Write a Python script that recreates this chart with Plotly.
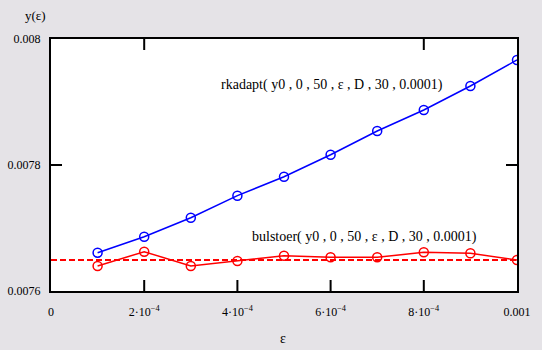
import plotly.graph_objects as go

# Tolerance values (epsilon) and the solver results at t = 50
eps = [1e-4, 2e-4, 3e-4, 4e-4, 5e-4, 6e-4, 7e-4, 8e-4, 9e-4, 1e-3]
rkadapt_vals = [0.0076608, 0.0076862, 0.0077163, 0.0077513, 0.0077814,
                0.0078163, 0.0078540, 0.0078873, 0.0079254, 0.0079667]
bulstoer_vals = [0.0076397, 0.0076624, 0.0076397, 0.0076476, 0.0076560,
                 0.0076535, 0.0076535, 0.0076614, 0.0076598, 0.0076492]
ref_value = 0.0076492

x_tickvals = [0, 2e-4, 4e-4, 6e-4, 8e-4, 1e-3]
x_ticktext = ["0", "2·10<sup>−4</sup>", "4·10<sup>−4</sup>", "6·10<sup>−4</sup>",
              "8·10<sup>−4</sup>", "0.001"]
y_tickvals = [0.0076, 0.0078, 0.008]
y_ticktext = ["0.0076", "0.0078", "0.008"]
bottom_ticks = [2e-4, 4e-4, 6e-4, 8e-4]
top_ticks = [2e-4, 8e-4]
side_ticks = [0.0078]

X_RANGE = [0, 1e-3]
Y_RANGE = [0.0076, 0.008]
SERIF = "Liberation Serif"
PLOT_W, PLOT_H = 466, 252
TICK_PX = 11


def x_frac(v):
    """Position of an x value as a fraction of the plot width."""
    return (v - X_RANGE[0]) / (X_RANGE[1] - X_RANGE[0])


fig = go.Figure()

fig.add_trace(go.Scatter(
    x=[X_RANGE[0], X_RANGE[1]], y=[ref_value, ref_value], mode="lines",
    line=dict(color="#ff0000", width=2, dash="6px,3px"), showlegend=False,
    hoverinfo="skip"))

fig.add_trace(go.Scatter(
    x=eps, y=rkadapt_vals, mode="lines+markers",
    line=dict(color="#0000ff", width=1.5),
    marker=dict(symbol="circle-open", size=9, color="#0000ff", line=dict(width=1.5)),
    showlegend=False))

fig.add_trace(go.Scatter(
    x=eps, y=bulstoer_vals, mode="lines+markers",
    line=dict(color="#ff0000", width=1.5),
    marker=dict(symbol="circle-open", size=9, color="#ff0000", line=dict(width=1.5)),
    showlegend=False))

# inside tick marks on the frame
tick_line = dict(color="#000000", width=2)
shapes = []
for t in bottom_ticks:
    shapes.append(dict(type="line", xref="paper", yref="paper", x0=x_frac(t), x1=x_frac(t),
                       y0=0, y1=TICK_PX / PLOT_H, line=tick_line, layer="above"))
for t in top_ticks:
    shapes.append(dict(type="line", xref="paper", yref="paper", x0=x_frac(t), x1=x_frac(t),
                       y0=1, y1=1 - TICK_PX / PLOT_H, line=tick_line, layer="above"))
for t in side_ticks:
    shapes.append(dict(type="line", xref="paper", yref="y", x0=0, x1=TICK_PX / PLOT_W,
                       y0=t, y1=t, line=tick_line, layer="above"))
    shapes.append(dict(type="line", xref="paper", yref="y", x0=1, x1=1 - TICK_PX / PLOT_W,
                       y0=t, y1=t, line=tick_line, layer="above"))

fig.update_layout(
    width=542, height=350,
    margin=dict(l=51, r=25, t=39, b=59, autoexpand=False),
    paper_bgcolor="#e5e3e7", plot_bgcolor="#ffffff",
    font=dict(family=SERIF, size=12, color="black"),
    shapes=shapes,
    xaxis=dict(range=X_RANGE, tickvals=x_tickvals, ticktext=x_ticktext,
               ticks="", ticklabelstandoff=9, automargin=False,
               showgrid=False, zeroline=False, showline=True, linecolor="black",
               linewidth=2, mirror=True, tickfont=dict(family=SERIF, size=12)),
    yaxis=dict(range=Y_RANGE, tickvals=y_tickvals, ticktext=y_ticktext,
               ticks="", ticklabelstandoff=6, automargin=False,
               showgrid=False, zeroline=False, showline=True, linecolor="black",
               linewidth=2, mirror=True, tickfont=dict(family=SERIF, size=12)),
    annotations=[
        dict(text="y(ε)", xref="paper", yref="paper", x=-0.034, y=1.095,
             xanchor="center", yanchor="middle", showarrow=False,
             font=dict(family=SERIF, size=13)),
        dict(text="ε", xref="paper", yref="paper", x=0.498, y=-0.19,
             xanchor="center", yanchor="middle", showarrow=False,
             font=dict(family=SERIF, size=14)),
        dict(text="rkadapt( y0 , 0 , 50 , ε , D , 30 , 0.0001)", xref="paper", yref="paper",
             x=0.604, y=0.817, xanchor="center", yanchor="middle", showarrow=False,
             font=dict(family=SERIF, size=14)),
        dict(text="bulstoer( y0 , 0 , 50 , ε , D , 30 , 0.0001)", xref="paper", yref="paper",
             x=0.673, y=0.214, xanchor="center", yanchor="middle", showarrow=False,
             font=dict(family=SERIF, size=14)),
    ],
)

fig.write_html("out.html")
